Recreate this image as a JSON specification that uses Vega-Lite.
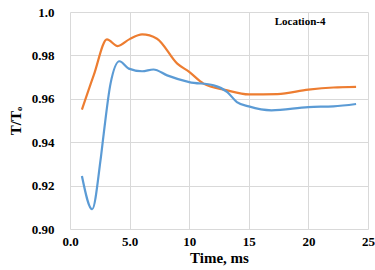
{
  "$schema": "https://vega.github.io/schema/vega-lite/v6.json",
  "width": 298,
  "height": 217,
  "autosize": {"type": "none"},
  "padding": {"left": 70, "top": 12, "right": 7, "bottom": 41},
  "background": "white",
  "config": {
    "view": {"stroke": null}
  },
  "datasets": {
    "series": [
      {"t": 1.0, "v": 0.9550, "s": "orange"},
      {"t": 2.0, "v": 0.9710, "s": "orange"},
      {"t": 3.1, "v": 0.9874, "s": "orange"},
      {"t": 4.0, "v": 0.9843, "s": "orange"},
      {"t": 5.0, "v": 0.9875, "s": "orange"},
      {"t": 6.05, "v": 0.9897, "s": "orange"},
      {"t": 7.3, "v": 0.9877, "s": "orange"},
      {"t": 9.0, "v": 0.9762, "s": "orange"},
      {"t": 10.0, "v": 0.9724, "s": "orange"},
      {"t": 11.2, "v": 0.9670, "s": "orange"},
      {"t": 13.1, "v": 0.9640, "s": "orange"},
      {"t": 15.0, "v": 0.9620, "s": "orange"},
      {"t": 17.4, "v": 0.9622, "s": "orange"},
      {"t": 20.0, "v": 0.9642, "s": "orange"},
      {"t": 22.1, "v": 0.9652, "s": "orange"},
      {"t": 24.0, "v": 0.9655, "s": "orange"},
      {"t": 1.0, "v": 0.9244, "s": "blue"},
      {"t": 1.86, "v": 0.9091, "s": "blue"},
      {"t": 2.56, "v": 0.9317, "s": "blue"},
      {"t": 2.83, "v": 0.9440, "s": "blue"},
      {"t": 3.4, "v": 0.9670, "s": "blue"},
      {"t": 4.15, "v": 0.9773, "s": "blue"},
      {"t": 4.93, "v": 0.9739, "s": "blue"},
      {"t": 6.05, "v": 0.9727, "s": "blue"},
      {"t": 7.0, "v": 0.9735, "s": "blue"},
      {"t": 8.15, "v": 0.9708, "s": "blue"},
      {"t": 10.0, "v": 0.9677, "s": "blue"},
      {"t": 12.05, "v": 0.9662, "s": "blue"},
      {"t": 13.2, "v": 0.9631, "s": "blue"},
      {"t": 14.0, "v": 0.9585, "s": "blue"},
      {"t": 15.0, "v": 0.9565, "s": "blue"},
      {"t": 16.9, "v": 0.9547, "s": "blue"},
      {"t": 20.0, "v": 0.9562, "s": "blue"},
      {"t": 22.1, "v": 0.9565, "s": "blue"},
      {"t": 24.0, "v": 0.9576, "s": "blue"}
    ],
    "label": [{"t": 19.3, "v": 0.9953, "txt": "Location-4"}]
  },
  "layer": [
    {
      "data": {"name": "series"},
      "mark": {"type": "line", "interpolate": "monotone", "strokeWidth": 2.2},
      "encoding": {
        "x": {
          "field": "t", "type": "quantitative",
          "scale": {"domain": [0, 25], "nice": false},
          "axis": {
            "title": "Time, ms",
            "values": [0, 5, 10, 15, 20, 25],
            "labelExpr": "datum.value < 10 ? format(datum.value, '.1f') : format(datum.value, 'd')",
            "labelPadding": 6,
            "titlePadding": 2,
            "labelFlush": false,
            "gridColor": "#d9d9d9",
            "domain": false,
            "ticks": false,
            "labelFont": "Liberation Serif",
            "labelFontWeight": "bold",
            "labelFontSize": 13,
            "labelColor": "#000",
            "titleFont": "Liberation Serif",
            "titleFontWeight": "bold",
            "titleFontSize": 15,
            "titleColor": "#000"
          }
        },
        "y": {
          "field": "v", "type": "quantitative",
          "scale": {"domain": [0.9, 1.0], "nice": false, "zero": false},
          "axis": {
            "title": "T/Tₒ",
            "values": [0.90, 0.91, 0.92, 0.93, 0.94, 0.95, 0.96, 0.97, 0.98, 0.99, 1.0],
            "labelExpr": "round(datum.value * 100) % 2 == 0 ? (datum.value > 0.995 ? '1.0' : format(datum.value, '.2f')) : ''",
            "labelPadding": 16,
            "titlePadding": 8,
            "labelFlush": false,
            "gridColor": "#d9d9d9",
            "domain": false,
            "ticks": false,
            "labelFont": "Liberation Serif",
            "labelFontWeight": "bold",
            "labelFontSize": 13,
            "labelColor": "#000",
            "titleFont": "Liberation Serif",
            "titleFontWeight": "bold",
            "titleFontSize": 15,
            "titleColor": "#000"
          }
        },
        "color": {
          "field": "s", "type": "nominal",
          "scale": {"domain": ["orange", "blue"], "range": ["#ED7D31", "#5B9BD5"]},
          "legend": null
        },
        "detail": {"field": "s"}
      }
    },
    {
      "data": {"name": "label"},
      "mark": {"type": "text", "font": "Liberation Serif", "fontWeight": "bold", "fontSize": 11, "color": "#000", "align": "center", "baseline": "middle"},
      "encoding": {
        "x": {"field": "t", "type": "quantitative"},
        "y": {"field": "v", "type": "quantitative"},
        "text": {"field": "txt"}
      }
    }
  ]
}
